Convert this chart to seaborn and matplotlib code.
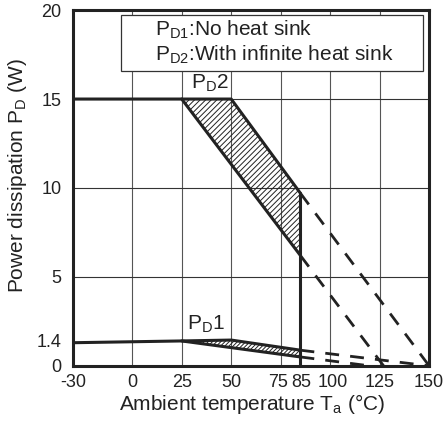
import numpy as np
import pandas as pd
import seaborn as sns
import matplotlib
matplotlib.use("Agg")
import matplotlib.pyplot as plt
import matplotlib.transforms as mtrans
from matplotlib.patches import Polygon

# derating curves
temp_pd2_low = [-30, 25, 85]
pd2_low = [15, 15, 6.2]
temp_pd2_high = [25, 50, 85]
pd2_high = [15, 15, 9.7]
temp_pd2_ext_high = [85, 150]
pd2_ext_high = [9.7, 0]
temp_pd2_ext_low = [85, 127]
pd2_ext_low = [6.2, 0]

temp_pd1_low = [-30, 25, 85]
pd1_low = [1.3, 1.4, 0.5]
temp_pd1_high = [25, 50, 85]
pd1_high = [1.4, 1.45, 0.88]
temp_pd1_ext_high = [85, 150]
pd1_ext_high = [0.88, 0]
temp_pd1_ext_low = [85, 120]
pd1_ext_low = [0.5, 0]

x_ticks = [-30, 0, 25, 50, 75, 85, 100, 125, 150]
y_ticks = [0, 1.4, 5, 10, 15, 20]
x_grid = [0, 25, 50, 75, 100, 125]
y_grid = [5, 10, 15]

sns.set_style("white")
plt.rcParams['font.family'] = ['Liberation Sans', 'DejaVu Sans']
plt.rcParams['mathtext.fontset'] = 'custom'
plt.rcParams['mathtext.rm'] = 'Liberation Sans'
plt.rcParams['hatch.linewidth'] = 0.7

fig = plt.figure(figsize=(4.47, 4.21), dpi=100)
ax = fig.add_axes([0.163, 0.131, 0.797, 0.845])

for gx in x_grid:
    ax.axvline(gx, color="#555555", lw=0.8, zorder=1)
for gy in y_grid:
    ax.axhline(gy, color="#333333", lw=0.8, zorder=1)


def band(t_low, v_low, t_high, v_high):
    # polygon between the lower curve (from 25 on) and the upper curve
    lo = [(t, v) for t, v in zip(t_low, v_low) if t >= 25]
    hi = list(zip(t_high, v_high))[::-1]
    return lo + hi


ax.add_patch(Polygon(band(temp_pd2_low, pd2_low, temp_pd2_high, pd2_high),
                     closed=True, facecolor="none", edgecolor="#222222", lw=0,
                     hatch="//////", zorder=2))
ax.add_patch(Polygon(band(temp_pd1_low, pd1_low, temp_pd1_high, pd1_high),
                     closed=True, facecolor="none", edgecolor="#222222", lw=0,
                     hatch="////////", zorder=2))

solid = [(temp_pd2_low, pd2_low), (temp_pd2_high, pd2_high),
         (temp_pd1_low, pd1_low), (temp_pd1_high, pd1_high),
         ([85, 85], [pd2_high[-1], 0])]
for tx, ty in solid:
    sns.lineplot(x=tx, y=ty, ax=ax, color="#222222", lw=2.2, sort=False,
                 estimator=None, zorder=3)

dashed = [(temp_pd2_ext_high, pd2_ext_high), (temp_pd2_ext_low, pd2_ext_low),
          (temp_pd1_ext_high, pd1_ext_high), (temp_pd1_ext_low, pd1_ext_low)]
for tx, ty in dashed:
    sns.lineplot(x=tx, y=ty, ax=ax, color="#222222", lw=2, sort=False, estimator=None,
                 zorder=3, linestyle=(0, (5, 4)))

ax.set_xlim(-30, 150)
ax.set_ylim(0, 20)
ax.set_xticks(x_ticks)
ax.set_yticks(y_ticks)
ax.set_xticklabels([str(v) for v in x_ticks])
ax.set_yticklabels(["0", "1.4", "5", "10", "15", "20"])
ax.tick_params(axis="x", length=0, labelsize=13, pad=6, colors="#222222")
ax.tick_params(axis="y", length=0, labelsize=13, pad=8, colors="#222222")
for s in ax.spines.values():
    s.set_linewidth(2.2)
    s.set_color("#222222")

# nudge the crowded 75 / 85 / 100 labels apart a little
for lbl in ax.get_xticklabels():
    shift = {"75": -2.5, "85": 1.0, "100": 3.0}.get(lbl.get_text(), 0)
    if shift:
        lbl.set_transform(lbl.get_transform() + mtrans.ScaledTranslation(shift / 100, 0, fig.dpi_scale_trans))

ax.set_xlabel(r"Ambient temperature T$_{\mathrm{a}}$ (°C)", fontsize=15, color="#222222")
ax.set_ylabel(r"Power dissipation P$_{\mathrm{D}}$ (W)", fontsize=15, color="#222222")
ax.xaxis.set_label_coords(0.503, -0.074)
ax.yaxis.set_label_coords(-0.124, 0.534)

ax.text(39, 15.3, r"P$_{\mathrm{D}}$2", fontsize=15, ha="center", va="bottom", color="#222222")
ax.text(37, 1.75, r"P$_{\mathrm{D}}$1", fontsize=15, ha="center", va="bottom", color="#222222")

# legend box
ax.add_patch(plt.Rectangle((-5.5, 16.6), 152.5, 3.1, transform=ax.transData,
                           facecolor="white", edgecolor="#333333", lw=0.9, zorder=4))
ax.text(11.5, 18.9, r"P$_{\mathrm{D1}}$:No heat sink", fontsize=15, va="center", color="#222222", zorder=5)
ax.text(11.5, 17.5, r"P$_{\mathrm{D2}}$:With infinite heat sink", fontsize=15, va="center", color="#222222", zorder=5)

fig.savefig("out.png", dpi=100)
